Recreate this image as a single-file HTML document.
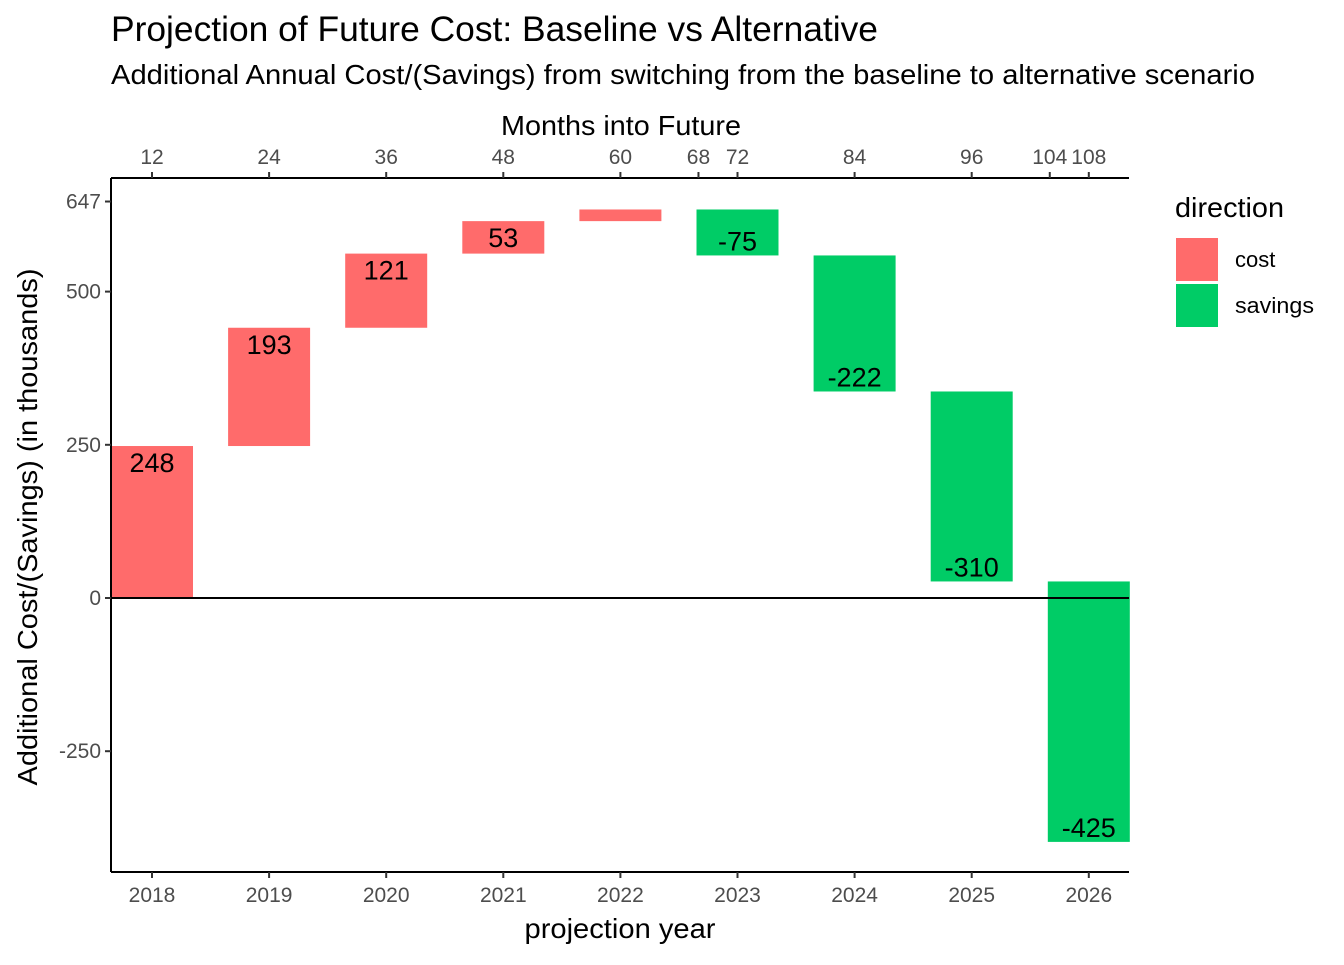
<!DOCTYPE html>
<html><head><meta charset="utf-8"><style>
body{margin:0;background:#fff;}
svg text{font-family:"Liberation Sans",Arial,sans-serif;}
</style></head><body>
<svg id="chart" width="1344" height="960">
<text x="111" y="41" font-size="35" fill="#000" textLength="767" lengthAdjust="spacingAndGlyphs">Projection of Future Cost: Baseline vs Alternative</text>
<text x="111" y="84" font-size="28" fill="#000" textLength="1144" lengthAdjust="spacingAndGlyphs">Additional Annual Cost/(Savings) from switching from the baseline to alternative scenario</text>
<text x="621" y="135" font-size="28" text-anchor="middle" textLength="240" lengthAdjust="spacingAndGlyphs">Months into Future</text>
<text x="620" y="938" font-size="28" text-anchor="middle" textLength="191" lengthAdjust="spacingAndGlyphs">projection year</text>
<text transform="translate(37,527) rotate(-90)" font-size="28" text-anchor="middle" textLength="517" lengthAdjust="spacingAndGlyphs">Additional Cost/(Savings) (in thousands)</text>
<g id="plot"></g>
<text x="1175" y="217" font-size="28" textLength="109" lengthAdjust="spacingAndGlyphs">direction</text>
<rect x="1176" y="238" width="42" height="43" fill="#FF6B6B"/>
<text x="1235" y="267" font-size="22">cost</text>
<rect x="1176" y="284" width="42" height="43" fill="#00CC66"/>
<text x="1235" y="313" font-size="22" textLength="79" lengthAdjust="spacingAndGlyphs">savings</text>
</svg>
<script>
const years=["2018","2019","2020","2021","2022","2023","2024","2025","2026"];
const changes=[248,193,121,53,19,-75,-222,-310,-425];
const labels=["248","193","121","53","","-75","-222","-310","-425"];
const yTicks=[647,500,250,0,-250];
const monthTicks=[12,24,36,48,60,68,72,84,96,104,108];
const NS="http://www.w3.org/2000/svg";
const g=document.getElementById('plot');
const L=111,R=1129,T=178,B=872;
const step=117.1, x0=152;
const xc=i=>x0+i*step;
const xm=m=>x0+(m-12)/12*step;
const y=v=>598-v*0.6128;
function mk(t,a){const e=document.createElementNS(NS,t);for(const k in a)e.setAttribute(k,a[k]);g.appendChild(e);return e;}
let cum=0;
changes.forEach((v,i)=>{
 const s=cum,e=cum+v;cum=e;
 const r=mk('rect',{x:xc(i)-41,y:y(Math.max(s,e)),width:82,height:Math.abs(y(s)-y(e)),fill:v>=0?'#FF6B6B':'#00CC66'});
 
 
 if(labels[i]){
  const t=mk('text',{x:xc(i),y:v>=0?y(e)+26:y(e)-5,'font-size':27,'text-anchor':'middle'});
  t.textContent=labels[i];
  
  
 }
});
const z=mk('line',{x1:L,x2:R,y1:y(0),y2:y(0),stroke:'#000','stroke-width':2});


const ax=[[L,T,L,B],[L,B,R,B],[L,T,R,T]];
ax.forEach((a,i)=>{const l=mk('line',{x1:a[0],y1:a[1],x2:a[2],y2:a[3],stroke:'#000','stroke-width':2});
 
 });
yTicks.forEach(v=>{
 mk('line',{x1:L-6,x2:L,y1:y(v),y2:y(v),stroke:'#333','stroke-width':2});
 const t=mk('text',{x:L-10,y:y(v)+7,'font-size':21,'text-anchor':'end',fill:'#4d4d4d'});
 t.textContent=v;
 
 
});
years.forEach((yr,i)=>{
 mk('line',{x1:xc(i),x2:xc(i),y1:B,y2:B+6,stroke:'#333','stroke-width':2});
 const t=mk('text',{x:xc(i),y:B+30,'font-size':21,'text-anchor':'middle',fill:'#4d4d4d'});
 t.textContent=yr;
 
 
});
monthTicks.forEach(m=>{
 mk('line',{x1:xm(m),x2:xm(m),y1:T-6,y2:T,stroke:'#333','stroke-width':2});
 const t=mk('text',{x:xm(m),y:T-14,'font-size':21,'text-anchor':'middle',fill:'#4d4d4d'});
 t.textContent=m;
 
 
});
</script>
</body></html>
